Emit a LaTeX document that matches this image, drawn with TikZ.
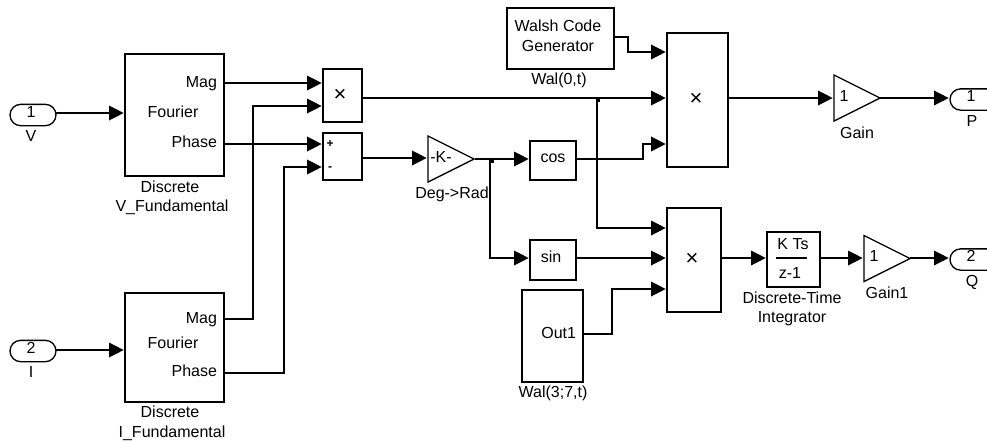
\documentclass[tikz,border=0pt]{standalone}
\usepackage{fontspec}
\setmainfont{Liberation Sans}
\usetikzlibrary{arrows.meta,shapes.misc,shapes.geometric}
\tikzset{
  blk/.style={draw=black,line width=1pt,fill=white,inner sep=0pt,outer sep=0pt},
  port/.style={draw=black,line width=1pt,fill=white,inner sep=0pt,outer sep=0pt,rounded rectangle},
  tri/.style={draw=black,line width=1pt,fill=white,isosceles triangle,isosceles triangle stretches,inner sep=0pt,outer sep=0pt,anchor=lower side},
  wire/.style={line width=1pt,-{Triangle[length=11pt,width=11pt]},shorten >=1pt},
  txt/.style={inner sep=0pt,outer sep=0pt,anchor=base,font=\fontsize{12}{14}\selectfont},
  txtr/.style={txt,anchor=base east},
  mul/.style={txt,font=\fontsize{16.5}{18}\selectfont},
  dot/.style={fill=black,inner sep=0pt,minimum size=3.2pt,rectangle},
}
\newcommand{\blkbox}[5]{%
  \pgfmathsetmacro{\bw}{(#4-#2)*0.75}\pgfmathsetmacro{\bh}{(#5-#3)*0.75}%
  \pgfmathsetmacro{\bx}{(#2+#4)/2}\pgfmathsetmacro{\by}{(#3+#5)/2}%
  \node[blk,minimum width=\bw pt,minimum height=\bh pt] (#1) at (\bx,\by) {};}
\begin{document}
\begin{tikzpicture}[x=0.75pt,y=-0.75pt]
\useasboundingbox (0,0) rectangle (987,440);
\fill[white] (0,0) rectangle (987,440);
% blocks
\blkbox{vf}{125}{54}{224}{176}
\blkbox{if}{125}{293}{224}{402}
\blkbox{pa}{323}{69}{362}{122}
\blkbox{sm}{323}{133}{362}{180}
\blkbox{ws}{507}{8}{614}{69}
\blkbox{pb}{667}{33}{728}{167}
\blkbox{cs}{530}{141}{576}{180}
\blkbox{sn}{530}{240}{576}{280}
\blkbox{wl}{522}{290}{583}{382}
\blkbox{pc}{667}{208}{721}{312}
\blkbox{dt}{767}{232}{820}{287}
\node[tri,minimum width=34.5pt,minimum height=34.5pt] (gk) at (428,159) {};
\node[tri,minimum width=34.5pt,minimum height=34.5pt] (g0) at (834,98) {};
\node[tri,minimum width=34.5pt,minimum height=34.5pt] (g1) at (864,258.5) {};
\node[port,minimum width=34.5pt,minimum height=16pt] (in1) at (33,115) {};
\node[port,minimum width=34.5pt,minimum height=16pt] (in2) at (33,351) {};
\begin{scope}
\clip (0,0) rectangle (987,440);
\node[port,rounded rectangle right arc=none,minimum width=45pt,minimum height=16pt] (out1) at (980,99.5) {};
\node[port,rounded rectangle right arc=none,minimum width=45pt,minimum height=16pt] (out2) at (980,259.5) {};
\end{scope}
% ports
\coordinate (vfin) at (125,113);
\coordinate (vfmag) at (224,83);
\coordinate (vfph) at (224,144);
\coordinate (ifin) at (125,350);
\coordinate (ifmag) at (224,319);
\coordinate (ifph) at (224,373);
\coordinate (paa) at (323,83);
\coordinate (pab) at (323,106);
\coordinate (pao) at (362,98);
\coordinate (sma) at (323,144);
\coordinate (smb) at (323,167);
\coordinate (smo) at (362,158);
\coordinate (wso) at (614,37);
\coordinate (pba) at (667,52);
\coordinate (pbb) at (667,98);
\coordinate (pbc) at (667,144);
\coordinate (pbo) at (728,98);
\coordinate (gki) at (428,158);
\coordinate (gko) at (475,159);
\coordinate (csi) at (530,159);
\coordinate (cso) at (576,159);
\coordinate (sni) at (530,258);
\coordinate (sno) at (576,258);
\coordinate (wlo) at (583,334);
\coordinate (pca) at (667,228);
\coordinate (pcb) at (667,258);
\coordinate (pcc) at (667,289);
\coordinate (pco) at (721,258);
\coordinate (dti) at (767,258);
\coordinate (dto) at (820,258);
\coordinate (g1i) at (864,258);
\coordinate (g1o) at (910,258);
\coordinate (g0i) at (834,98);
\coordinate (g0o) at (880,98);
\coordinate (o1i) at (950,98);
\coordinate (o2i) at (950,258);
\coordinate (in1o) at (56,113);
\coordinate (in2o) at (56,350);
% connectors
\draw[wire] (in1o) -- (vfin);
\draw[wire] (in2o) -- (ifin);
\draw[wire] (vfmag) -- (paa);
\draw[wire] (vfph) -- (sma);
\draw[wire] (ifmag) -- (253,319) -- (253,106) -- (pab);
\draw[wire] (ifph) -- (284,373) -- (284,167) -- (smb);
\draw[wire] (pao) -- (pbb);
\draw[wire] (smo) -- (gki);
\draw[wire] (gko) -- (csi);
\draw[wire] (wso) -- (628,37) -- (628,52) -- (pba);
\draw[wire] (cso) -- (643,159) -- (643,144) -- (pbc);
\draw[wire] (597,98) -- (597,228) -- (pca);
\draw[wire] (490,159) -- (490,258) -- (sni);
\draw[wire] (sno) -- (pcb);
\draw[wire] (wlo) -- (612,334) -- (612,289) -- (pcc);
\draw[wire] (pbo) -- (g0i);
\draw[wire] (g0o) -- (o1i);
\draw[wire] (pco) -- (dti);
\draw[wire] (dto) -- (g1i);
\draw[wire] (g1o) -- (o2i);
\node[dot] (j1) at (598,100) {};
\node[dot] (j2) at (492,161) {};
% fraction bar
\coordinate (fa) at (776,258);
\coordinate (fb) at (807,258);
\draw[line width=0.8pt] (fa) -- (fb);
% texts
\node[txt] (t1) at (31,117) {1};
\node[txt] (t2) at (31,141) {V};
\node[txt] (t3) at (31,353) {2};
\node[txt] (t4) at (31,377) {I};
\node[txtr] (t5) at (217,87) {Mag};
\node[txt] (t6) at (173,117) {Fourier};
\node[txtr] (t7) at (217,147) {Phase};
\node[txt] (t8) at (170,192) {Discrete};
\node[txt] (t9) at (172,211) {V\_Fundamental};
\node[txtr] (t10) at (217,323) {Mag};
\node[txt] (t11) at (173,348) {Fourier};
\node[txtr] (t12) at (217,376) {Phase};
\node[txt] (t13) at (170,417) {Discrete};
\node[txt] (t14) at (172,437) {I\_Fundamental};
\node[mul] (t15) at (340,101) {×};
\node[txt,font=\fontsize{9}{9}\bfseries\selectfont] (t16) at (330,147) {+};
\node[txt,font=\fontsize{9}{9}\bfseries\selectfont] (t17) at (330,170) {-};
\node[txt] (t18) at (558,31) {Walsh Code};
\node[txt] (t19) at (558,51) {Generator};
\node[txt] (t20) at (559,84) {Wal(0,t)};
\node[txt] (t21) at (441,162) {-K-};
\node[txt] (t22) at (553,162) {cos};
\node[txt] (t23) at (452,198) {Deg->Rad};
\node[txt] (t24) at (551,262) {sin};
\node[txtr] (t25) at (576,338) {Out1};
\node[txt] (t26) at (553,397) {Wal(3;7,t)};
\node[mul] (t27) at (696,105) {×};
\node[mul] (t28) at (692,265) {×};
\node[txt] (t29) at (793,249) {K Ts};
\node[txt] (t30) at (790,278) {z-1};
\node[txt] (t31) at (792,303) {Discrete-Time};
\node[txt] (t32) at (792,322) {Integrator};
\node[txt] (t33) at (844,101) {1};
\node[txt] (t34) at (857,138) {Gain};
\node[txt] (t35) at (874,261) {1};
\node[txt] (t36) at (887,298) {Gain1};
\node[txt] (t37) at (971,101) {1};
\node[txt] (t38) at (972,126) {P};
\node[txt] (t39) at (971,261) {2};
\node[txt] (t40) at (972,286) {Q};
\end{tikzpicture}
\end{document}
